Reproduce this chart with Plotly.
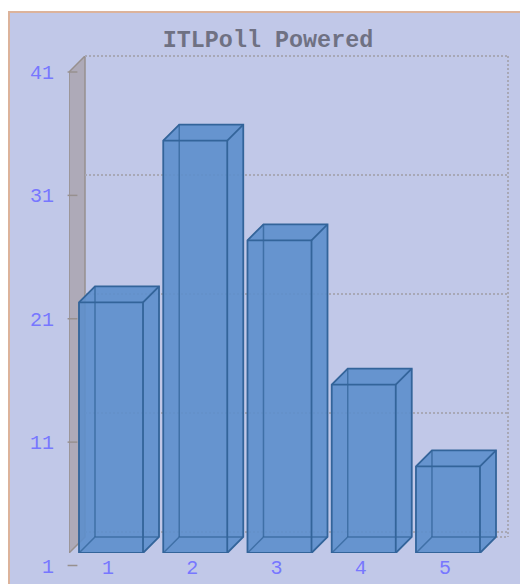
import plotly.graph_objects as go

W, H = 520, 584
categories = [1, 2, 3, 4, 5]
values = [21.85, 35.3, 27.0, 15.0, 8.2]
y_ticks = [1, 11, 21, 31, 41]
title = "ITLPoll Powered"

PANEL = "#c1c8e8"
BORDER = "#dcb39b"
BLUE = "#7777ff"
FILL = "rgba(92,142,204,0.90)"
EDGE = "#33649a"
INNER = "rgba(51,100,154,0.75)"
GRID = "#a8a8b6"
WALL_EDGE = "#97908f"
BAR_W = 0.76
BAR_SHIFT = 3 / 84.25
DX, DY = 16 / 84.25, 16 / 12.025
XR = [0.537, 5.748]
YR = [1, 41 + DY]
GRID_PAD = 4 / 11.9
TICK_X = 3.5 / 439
FONT = "Liberation Mono"


def fx(px):
    return px / W


def fy(py):
    return 1 - py / H


fig = go.Figure()
# side wall (x, y), drawn first so the wall ticks of the label axis stay above it
fig.add_trace(go.Scatter(
    x=[XR[0], XR[0] + DX, XR[0] + DX, XR[0], XR[0]],
    y=[1, 1 + DY, 41 + DY, 41, 1], xaxis="x", yaxis="y",
    mode="lines", fill="toself", fillcolor="#aeaab8",
    line=dict(color=WALL_EDGE, width=1.5), hoverinfo="skip", showlegend=False))
# invisible carrier for the back-plane grid axis (x2, y2)
fig.add_trace(go.Scatter(x=[0, 1], y=[1, 41], xaxis="x2", yaxis="y2", mode="markers",
                         marker=dict(opacity=0), hoverinfo="skip", showlegend=False))
# wall ticks on the label axis (x3, y3)
fig.add_trace(go.Scatter(
    x=[TICK_X] * len(y_ticks), y=y_ticks, xaxis="x3", yaxis="y3", mode="markers",
    cliponaxis=False,
    marker=dict(symbol="line-ew", size=7, line=dict(color=WALL_EDGE, width=1.5)),
    hoverinfo="skip", showlegend=False))

for c, v in zip(categories, values):
    l, r = c + BAR_SHIFT - BAR_W / 2, c + BAR_SHIFT + BAR_W / 2
    fig.add_trace(go.Scatter(
        x=[l, r, r + DX, r + DX, l + DX, l, l],
        y=[1, 1, 1 + DY, v + DY, v + DY, v, 1], xaxis="x4", yaxis="y4",
        mode="lines", fill="toself", fillcolor=FILL,
        line=dict(color=EDGE, width=1.8), hoverinfo="skip", showlegend=False))
    fig.add_trace(go.Scatter(
        x=[l, l + DX, r + DX, None, l + DX, l + DX],
        y=[1, 1 + DY, 1 + DY, None, 1 + DY, v + DY], xaxis="x4", yaxis="y4",
        mode="lines", line=dict(color=INNER, width=1.5),
        hoverinfo="skip", showlegend=False))
    fig.add_trace(go.Scatter(
        x=[l, r, r, None, r, r + DX],
        y=[v, v, 1, None, v, v + DY], xaxis="x4", yaxis="y4",
        mode="lines", line=dict(color=EDGE, width=1.8),
        hoverinfo="skip", showlegend=False))

plane_x = [fx(69), fx(508)]
plane_y = [fy(553), fy(56)]

fig.update_layout(
    width=W, height=H, autosize=False,
    margin=dict(l=0, r=0, t=0, b=0, autoexpand=False),
    paper_bgcolor="white", plot_bgcolor="rgba(0,0,0,0)",
    showlegend=False,
    title=dict(text=title, x=fx(268), xanchor="center", y=fy(39), yanchor="middle",
               font=dict(family=FONT, size=23.4, color="#6f7183", weight="bold")),
    # wall
    xaxis=dict(domain=plane_x, range=XR, visible=False, anchor="y", automargin=False),
    yaxis=dict(domain=plane_y, range=YR, visible=False, anchor="x", automargin=False),
    # back-plane grid
    xaxis2=dict(domain=[fx(85), fx(508)], range=[0, 1], visible=False, anchor="y2", automargin=False),
    yaxis2=dict(domain=[fy(536), fy(52)], range=[1 - GRID_PAD, 41 + GRID_PAD], tickvals=y_ticks,
                showticklabels=False, ticks="", zeroline=False, showline=False, automargin=False,
                showgrid=True, gridcolor=GRID, gridwidth=2, griddash="2px,2px", anchor="x2"),
    # left labels and wall ticks
    xaxis3=dict(domain=plane_x, range=[0, 1], visible=False, anchor="y3", automargin=False),
    yaxis3=dict(domain=[fy(565.5), fy(72)], range=[1, 41], tickvals=y_ticks,
                anchor="free", position=fx(69), showgrid=False, zeroline=False,
                showline=False, ticks="", ticklabelstandoff=15, automargin=False,
                tickfont=dict(family=FONT, size=20, color=BLUE)),
    # bars
    xaxis4=dict(domain=plane_x, range=XR, tickvals=categories,
                ticktext=[str(c) for c in categories], showgrid=False, zeroline=False,
                showline=False, ticks="", ticklabelstandoff=0, automargin=False,
                tickfont=dict(family=FONT, size=20, color=BLUE), anchor="y4"),
    yaxis4=dict(domain=plane_y, range=YR, showgrid=False, zeroline=False,
                showline=False, showticklabels=False, ticks="", anchor="x4", automargin=False),
    shapes=[
        dict(type="rect", xref="paper", yref="paper", x0=fx(9), x1=1.01, y0=-0.01, y1=fy(12),
             fillcolor=PANEL, line=dict(color=BORDER, width=2), layer="below"),
        dict(type="line", xref="paper", yref="paper", x0=fx(508), x1=fx(508), y0=fy(56), y1=fy(537),
             line=dict(color=GRID, width=2, dash="2px,2px"), layer="below"),
        dict(type="line", xref="paper", yref="paper", x0=fx(496), x1=fx(508), y0=fy(537), y1=fy(537),
             line=dict(color=GRID, width=2, dash="2px,2px"), layer="below"),
    ],
)
fig.write_html("out.html", config=dict(displayModeBar=False),
               post_script="document.body.style.margin='0';document.documentElement.style.overflow='hidden';")
